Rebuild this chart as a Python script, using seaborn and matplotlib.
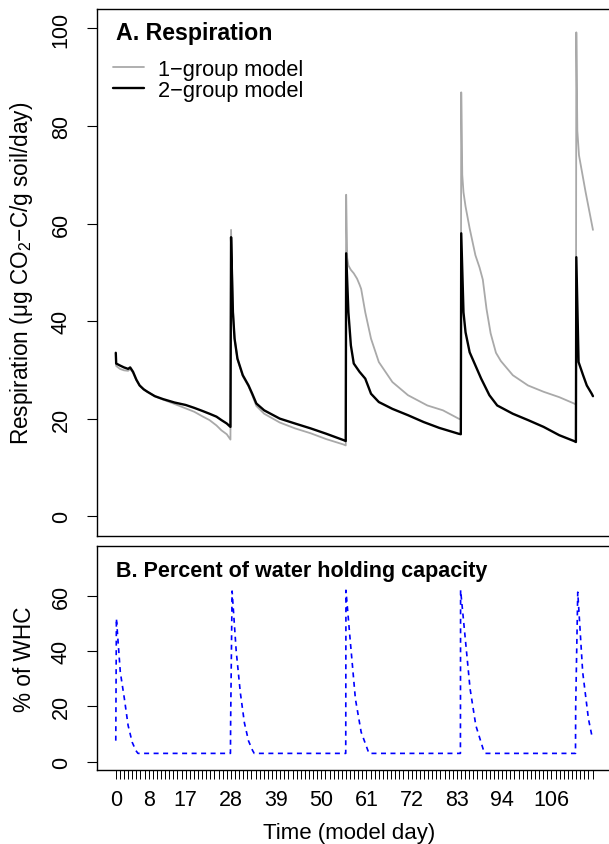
import numpy as np
import pandas as pd
import matplotlib
matplotlib.use('Agg')
import matplotlib.pyplot as plt
import seaborn as sns

# ---- data ----
# 1-group model respiration (ug CO2-C / g soil / day)
day_1group = [0, 0.1, 1, 2, 3, 3.5, 4.2, 5, 5.8, 6.8, 7.7, 9.5, 11.5, 14.3, 17, 19.1,
              21, 22.8, 24.5, 25.7, 27, 27.9,
              28.05, 28.5, 28.9, 29.6, 30.9, 32.3, 33.2, 34.2, 36.1, 39.9, 43.6, 47.4,
              51.2, 55.4, 55.95,
              56.05, 56.3, 56.6, 57.2, 57.9, 58.7, 59.3, 59.7, 60.7, 62.1, 64.0, 67.3,
              71.1, 75.8, 79.6, 83.4, 83.95,
              84.05, 84.3, 84.6, 85.1, 86.1, 87.5, 88.5, 89.3, 90.2, 91.2, 92.5, 93.7,
              96.6, 100.3, 104.1, 107.9, 111.5, 111.95,
              112.05, 112.3, 112.7, 114.3, 116.1]
resp_1group = [31.5, 30.8, 30.2, 29.9, 29.8, 30.2, 29.4, 27.9, 26.8, 26.0, 25.5, 24.6,
               23.9, 23.0, 22.1, 21.4, 20.5, 19.7, 18.6, 17.6, 16.8, 15.7,
               58.7, 42.5, 36.6, 32.2, 28.7, 26.6, 24.8, 22.6, 21.0, 19.2, 18.0, 17.0,
               15.8, 14.7, 14.5,
               65.9, 53.0, 51.4, 50.5, 49.8, 48.7, 47.5, 46.6, 41.8, 36.4, 31.6, 27.5,
               24.8, 22.7, 21.7, 20.0, 19.8,
               86.9, 70.0, 66.4, 63.5, 59.0, 53.5, 51.0, 48.5, 42.5, 37.5, 33.5, 31.8,
               28.9, 26.8, 25.5, 24.4, 23.1, 22.9,
               99.2, 79.0, 74.0, 66.5, 58.7]

# 2-group model respiration
day_2group = [0, 0.1, 1, 2, 3, 3.5, 4.2, 5, 5.8, 6.8, 7.7, 9.5, 11.5, 14.3, 17, 19.1,
              21, 22.8, 24.5, 25.7, 27, 27.9,
              28.05, 28.5, 28.9, 29.6, 30.9, 32.3, 33.2, 34.2, 36.1, 39.9, 43.6, 47.4,
              51.2, 55.4, 55.95,
              56.05, 56.6, 57.2, 57.9, 59.3, 60.7, 62.1, 64.0, 67.3, 71.1, 74.9, 78.7,
              83.4, 83.95,
              84.05, 84.6, 85.1, 86.1, 87.5, 88.9, 90.9, 92.8, 96.6, 100.3, 104.1,
              107.9, 111.5, 111.95,
              112.05, 112.6, 113.7, 114.6, 115.8, 116.1]
resp_2group = [33.5, 31.3, 30.9, 30.5, 30.2, 30.5, 29.6, 28.0, 26.8, 26.0, 25.5, 24.6,
               24.0, 23.3, 22.8, 22.2, 21.6, 21.0, 20.4, 19.7, 19.0, 18.3,
               57.2, 41.8, 36.4, 32.3, 28.9, 26.8, 25.1, 23.1, 21.7, 20.0, 19.0, 18.0,
               16.9, 15.6, 15.4,
               53.9, 41.8, 35.0, 31.3, 29.6, 28.2, 25.1, 23.4, 22.0, 20.7, 19.3, 18.1,
               16.9, 16.8,
               58.0, 41.8, 37.7, 33.6, 30.9, 28.2, 24.8, 22.7, 21.0, 19.7, 18.3,
               16.6, 15.4, 15.2,
               53.1, 31.6, 28.9, 26.8, 25.1, 24.6]

# percent of water holding capacity
day_whc = [0, 0.15, 1.1, 2.1, 3.0, 4.0, 4.9, 5.4,
           27.9, 27.95, 28.3, 29.3, 30.3, 31.3, 32.3, 33.3, 33.7,
           55.95, 56.0, 57.0, 58.3, 59.7, 61.6,
           83.85, 83.9, 84.8, 86.2, 87.6, 89.5, 89.9,
           111.85, 111.9, 112.4, 113.6, 115.0, 116.0]
whc = [7.6, 51.8, 32.4, 22.7, 13.1, 7.0, 4.0, 3.0,
       3.0, 15.0, 61.7, 40.0, 25.0, 14.0, 7.5, 4.0, 3.0,
       3.0, 62.0, 44.5, 22.7, 10.7, 3.0,
       3.0, 62.0, 48.1, 26.4, 13.1, 4.0, 3.0,
       3.0, 20.0, 61.3, 32.4, 15.5, 8.2]

tick_days = list(range(0, 117))
tick_label_days = [0, 8, 17, 28, 39, 50, 61, 72, 83, 94, 106]

# ---- style ----
sns.set_theme(style='ticks')
plt.rcParams['font.family'] = ['Liberation Sans', 'DejaVu Sans']
plt.rcParams['mathtext.fontset'] = 'custom'
plt.rcParams['mathtext.rm'] = 'Liberation Sans'
plt.rcParams['mathtext.it'] = 'Liberation Sans:italic'
plt.rcParams['axes.linewidth'] = 1.0
for k in ['text.color', 'axes.labelcolor', 'xtick.color', 'ytick.color', 'axes.edgecolor']:
    plt.rcParams[k] = 'black'

fig = plt.figure(figsize=(6.09, 8.45), dpi=100)
axA = fig.add_axes([0.1588, 0.3649, 0.8455, 0.6233])
axB = fig.add_axes([0.1588, 0.0876, 0.8455, 0.2651])

df1 = pd.DataFrame({'day': day_1group, 'resp': resp_1group})
df2 = pd.DataFrame({'day': day_2group, 'resp': resp_2group})
dfw = pd.DataFrame({'day': day_whc, 'whc': whc})

sns.lineplot(data=df1, x='day', y='resp', color='#a9a9a9', lw=1.3,
             estimator=None, sort=False, label='1\u2212group model', ax=axA)
sns.lineplot(data=df2, x='day', y='resp', color='black', lw=1.7,
             estimator=None, sort=False, label='2\u2212group model', ax=axA)
sns.lineplot(data=dfw, x='day', y='whc', color='#0000ff', lw=1.2,
             estimator=None, sort=False, ax=axB)
axB.lines[0].set_dashes((3, 2.7))

for ax in (axA, axB):
    ax.set_xlim(-4.64, 120.64)
    for s in ax.spines.values():
        s.set_visible(True)
        s.set_color('black')
    ax.tick_params(axis='y', direction='out', length=7, width=0.8,
                   labelsize=15.5, pad=11, labelrotation=90)
    for lab in ax.get_yticklabels():
        lab.set_va('center')

axA.set_ylim(-4, 104)
axA.set_yticks([0, 20, 40, 60, 80, 100])
axA.set_xticks([])
axA.set_xlabel('')
axA.set_ylabel('Respiration (\u03bcg CO$_2$\u2212C/g soil/day)', fontsize=16.3, va='center')
axA.yaxis.set_label_coords(-0.147, 0.5)
axA.text(0.037, 0.956, 'A. Respiration', transform=axA.transAxes,
         fontsize=16.7, fontweight='bold', ha='left', va='center')
axA.legend(loc='upper left', bbox_to_anchor=(0.031, 0.905), frameon=False,
           fontsize=15.7, handlelength=1.45, handletextpad=0.65, labelspacing=0.0,
           borderpad=0, borderaxespad=0)

axB.set_ylim(-3, 78)
axB.set_yticks([0, 20, 40, 60])
axB.set_xticks(tick_days)
axB.set_xticklabels([str(d) if d in tick_label_days else '' for d in tick_days])
axB.tick_params(axis='x', direction='out', length=6.5, width=0.7,
                labelsize=15.5, pad=7)
axB.set_ylabel('% of WHC', fontsize=16.3, va='center')
axB.yaxis.set_label_coords(-0.14, 0.5)
axB.set_xlabel('Time (model day)', fontsize=16, va='center')
axB.xaxis.set_label_coords(0.49, -0.277)
axB.text(0.037, 0.89, 'B. Percent of water holding capacity', transform=axB.transAxes,
         fontsize=15.5, fontweight='bold', ha='left', va='center')
for lab in axB.get_yticklabels():
    lab.set_rotation(90)
    lab.set_va('center')

fig.savefig('out.png', dpi=100)
